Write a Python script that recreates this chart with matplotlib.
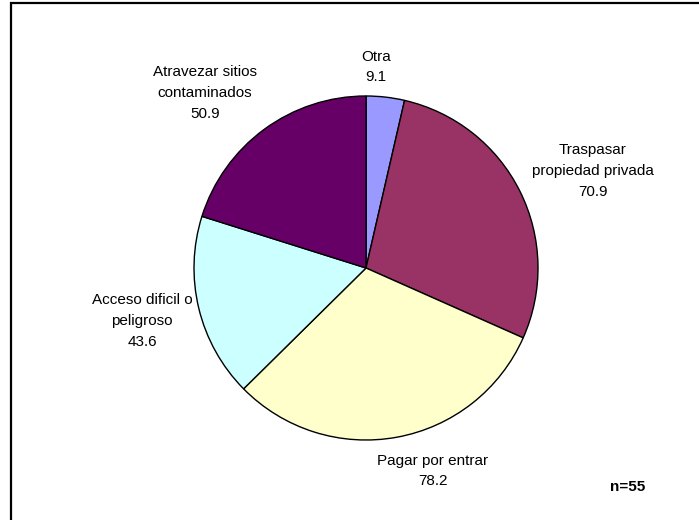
import matplotlib.pyplot as plt
from matplotlib.patches import Rectangle

plt.rcParams['font.family'] = ['Liberation Sans', 'DejaVu Sans']

# data (clockwise from top)
categories = ['Otra', 'Traspasar\npropiedad privada', 'Pagar por entrar',
              'Acceso dificil o\npeligroso', 'Atravezar sitios\ncontaminados']
values = [9.1, 70.9, 78.2, 43.6, 50.9]
colors = ['#9999FF', '#993366', '#FFFFCC', '#CCFFFF', '#660066']

# label centres in pixels (x, y from top)
label_pos = [(376, 67), (593, 171), (433, 471), (142, 321), (205, 93)]

W, H = 699, 520
fig = plt.figure(figsize=(W / 100, H / 100), dpi=100)
ax = fig.add_axes([0, 0, 1, 1])
ax.set_xlim(0, W)
ax.set_ylim(0, H)
ax.set_aspect('equal')
ax.axis('off')

# outer frame
ax.add_patch(Rectangle((11, -10), W, H - 3 + 10, fill=False,
                       edgecolor='black', linewidth=1.6))

ax.pie(values, colors=colors, startangle=90, counterclock=False,
       center=(366, H - 268), radius=172,
       wedgeprops=dict(edgecolor='black', linewidth=1.0))
ax.set_xlim(0, W)
ax.set_ylim(0, H)

for cat, v, (x, y) in zip(categories, values, label_pos):
    ax.text(x, H - y, '%s\n%.1f' % (cat, v), ha='center', va='center',
            fontsize=11, linespacing=1.6)

ax.text(628, H - 487, 'n=55', ha='center', va='center', fontsize=11,
        fontweight='bold')

fig.savefig('out.png', dpi=100)
